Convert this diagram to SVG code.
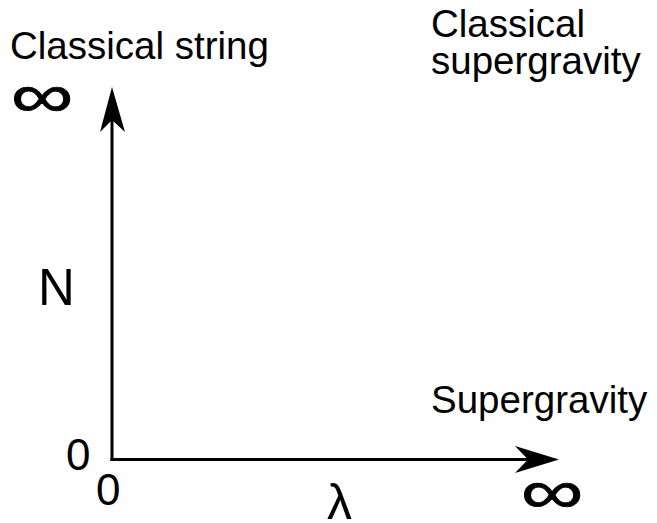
<svg xmlns="http://www.w3.org/2000/svg" width="657" height="523" viewBox="0 0 657 523">
<style>
.t{font-family:"Liberation Sans",Arial,sans-serif;fill:#000}
.lbl{font-size:38.5px}
.inf{font-family:"Liberation Sans",Arial,sans-serif;font-size:80px;fill:#000;stroke:#000;stroke-width:1}
.ax{stroke:#000;stroke-width:3;fill:none}
.ah{fill:#000;stroke:none}
</style>
<rect width="657" height="523" fill="#fff"/>
<g id="connectors">
<path class="ax" d="M112 461 V118"/>
<path class="ah" d="M112 87 L125 132 L112 120 L100 132 Z"/>
<path class="ax" d="M110.5 459.5 H530"/>
<path class="ah" d="M559 459.5 L515 446 L528 459.5 L515 473 Z"/>
</g>
<g id="classical-string"><text class="t lbl" x="10" y="59">Classical string</text></g>
<g id="classical-supergravity">
<text class="t lbl" x="431" y="37">Classical</text>
<text class="t lbl" x="431" y="74">supergravity</text>
</g>
<g id="supergravity"><text class="t lbl" x="431" y="413">Supergravity</text></g>
<g id="axis-labels">
<text class="t" x="38" y="305" font-size="51">N</text>
<text class="t" x="327" y="519" font-size="50">λ</text>
<text class="t" x="66" y="470" font-size="44">0</text>
<text class="t" x="96" y="505" font-size="44">0</text>
<text class="inf" transform="translate(10.8 116.7) scale(1.1 0.78)">∞</text>
<text class="inf" transform="translate(520.8 512.7) scale(1.1 0.78)">∞</text>
</g>
</svg>
